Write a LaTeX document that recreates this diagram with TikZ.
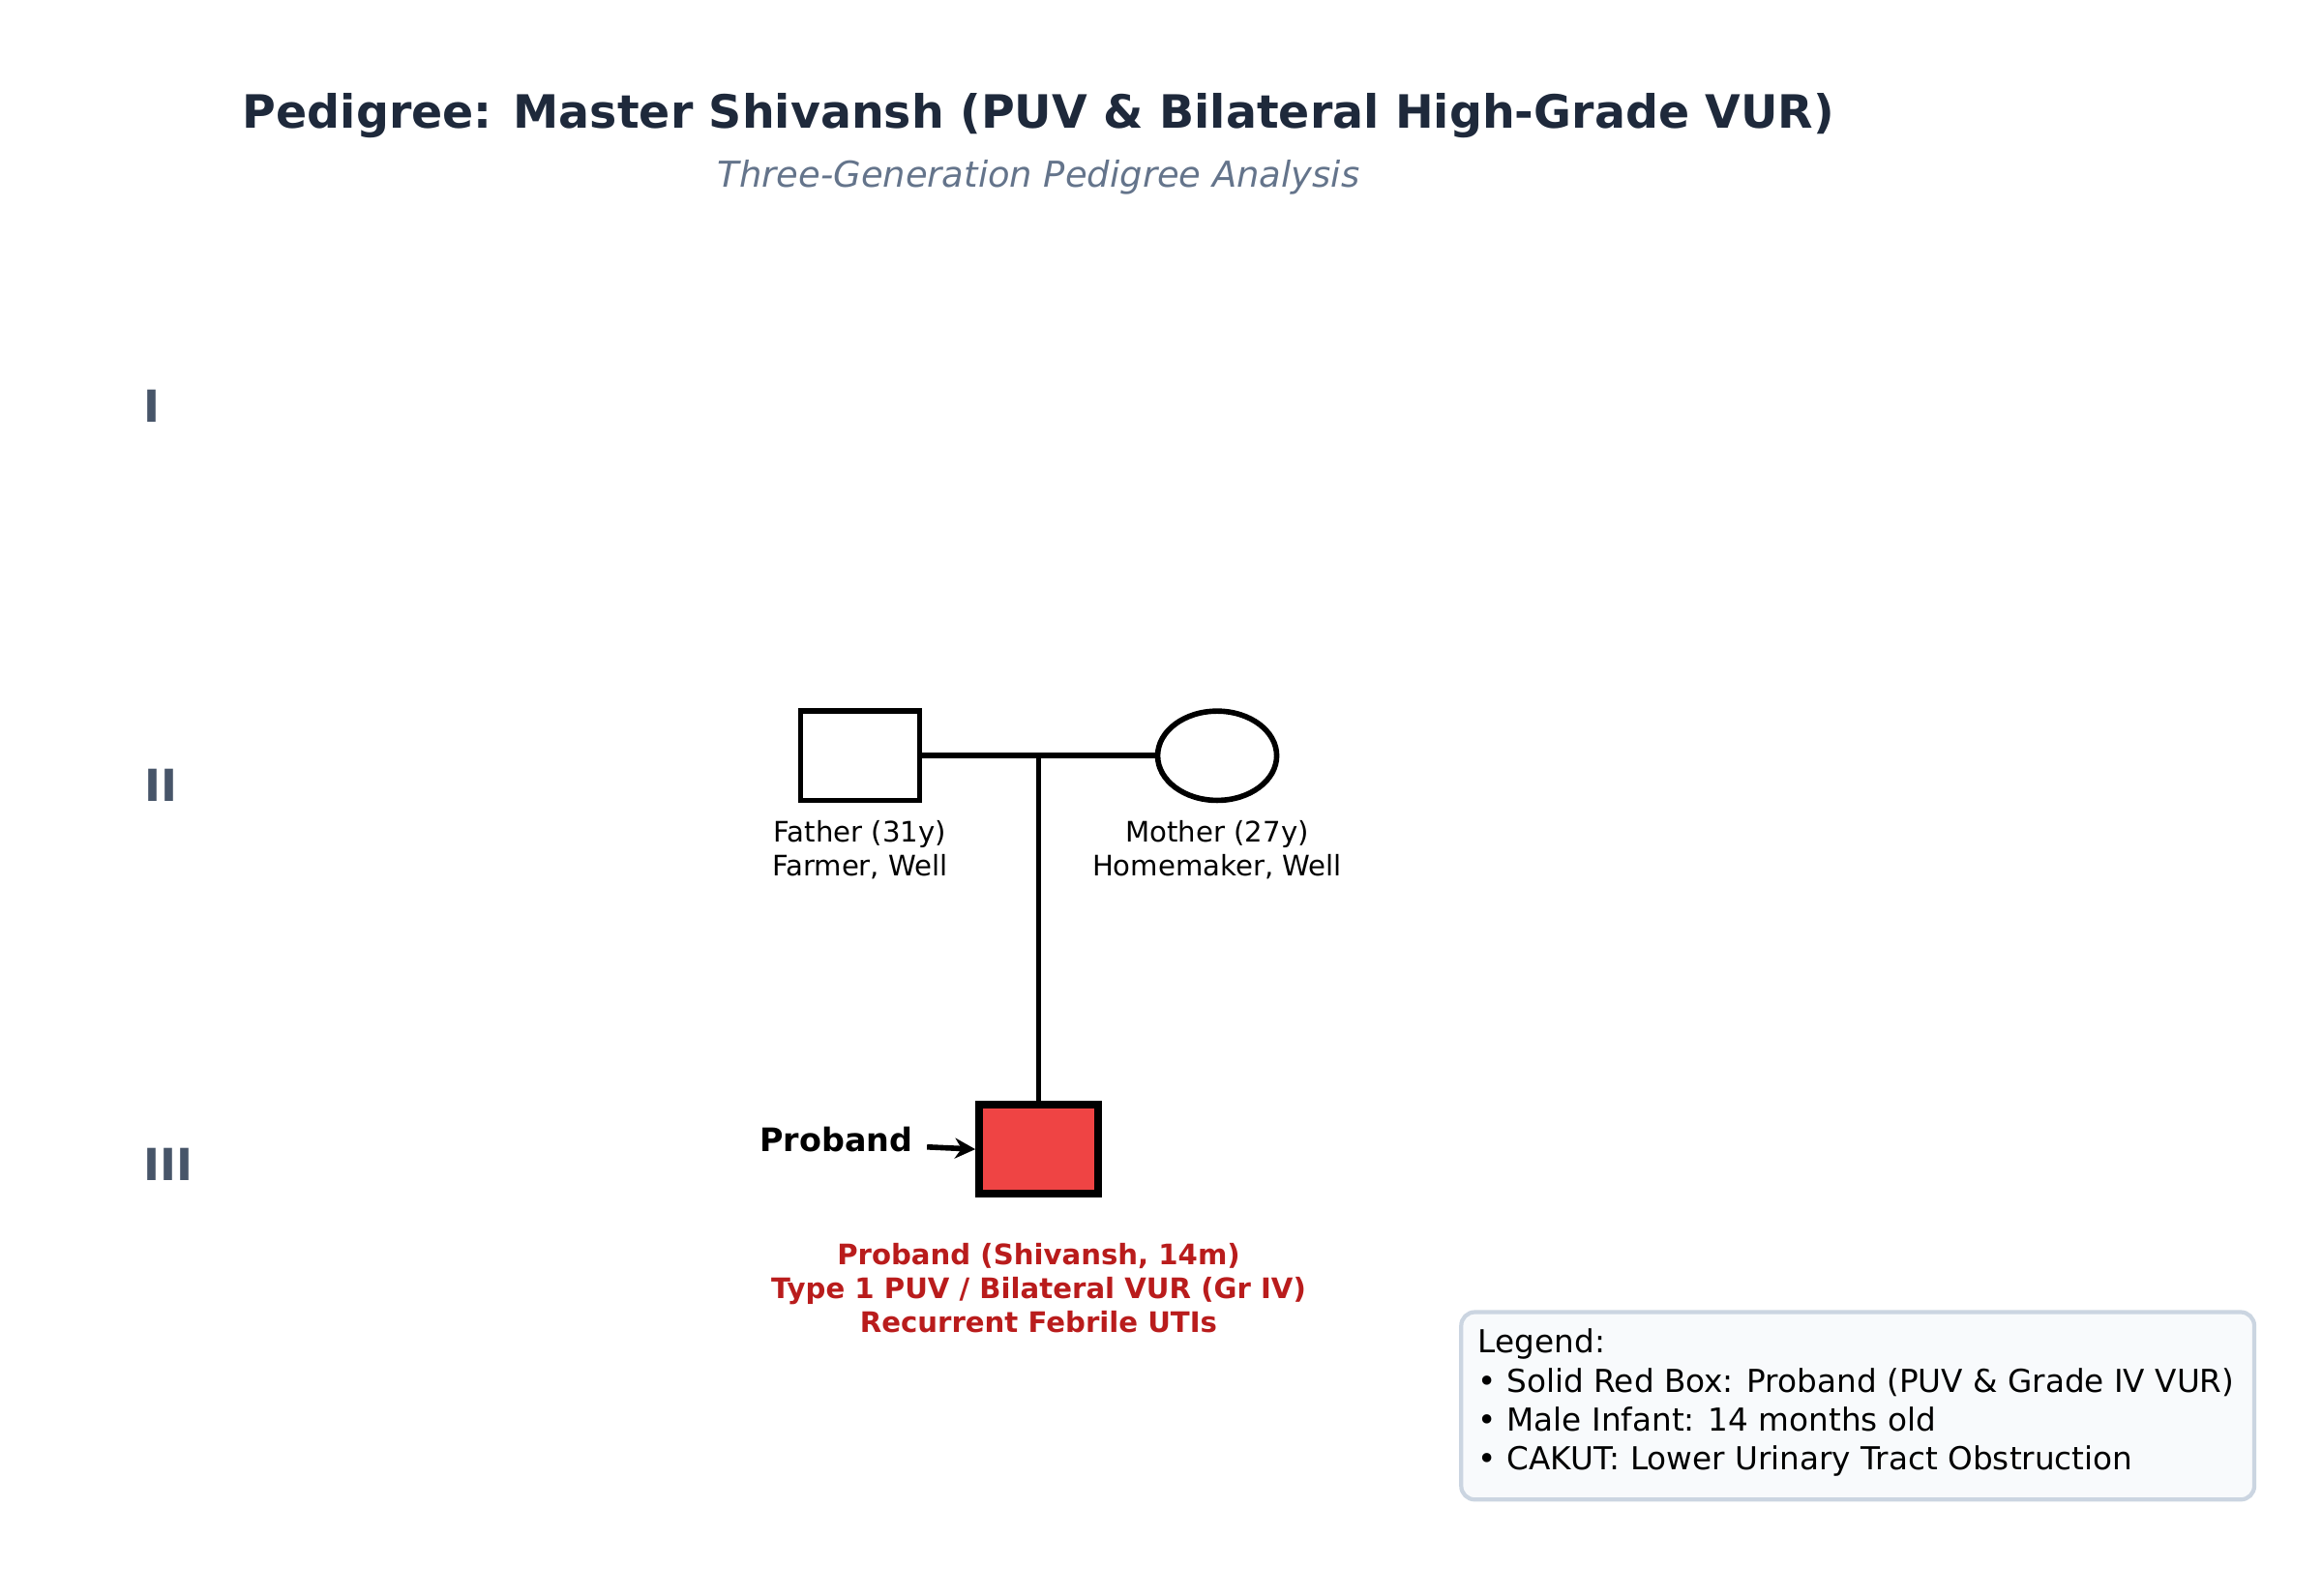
\documentclass[tikz,border=0pt]{standalone}
\usepackage{fontspec}
\setmainfont{DejaVu Sans}
\usetikzlibrary{arrows.meta,shapes.geometric}
\definecolor{titc}{HTML}{1E293B}
\definecolor{subc}{HTML}{64748B}
\definecolor{genc}{HTML}{475569}
\definecolor{pred}{HTML}{EF4444}
\definecolor{dred}{HTML}{B91C1C}
\definecolor{lgfill}{HTML}{F8FAFC}
\definecolor{lgbord}{HTML}{CBD5E1}
\begin{document}
\begin{tikzpicture}[x=0.01538cm,y=-0.01538cm,
 gen/.style={font=\fontsize{13}{15}\selectfont\bfseries,text=genc},
 lbl/.style={font=\fontsize{8.3}{10}\selectfont,align=center},
 line/.style={line width=1.6pt},
 ind/.style={draw,line width=1.6pt,minimum width=80*0.01538cm,minimum height=60*0.01538cm,inner sep=0pt}]
\useasboundingbox (0,0) rectangle (1560.5,1072.8);
\node[font=\fontsize{13.5}{16}\selectfont\bfseries,text=titc] (t) at (698,78) {Pedigree: Master Shivansh (PUV \& Bilateral High-Grade VUR)};
\node[font=\fontsize{10.5}{13}\selectfont\itshape,text=subc] (st) at (698,119) {Three-Generation Pedigree Analysis};
\node[gen] (g1) at (102,273) {I};
\node[gen] (g2) at (108,528) {II};
\node[gen] (g3) at (113,783) {III};
\node[ind,rectangle] (f) at (578,508) {};
\node[ind,ellipse] (m) at (818,508) {};
\node[ind,rectangle,fill=pred,line width=2.2pt] (p) at (698,772.5) {};
\coordinate (mid) at (698,508);
\draw[line] (f.east) -- (m.west);
\draw[line] (mid) -- (p.north);
\node[lbl] (fl) at (578,571) {Father (31y)\\Farmer, Well};
\node[lbl] (ml) at (818,571) {Mother (27y)\\Homemaker, Well};
\node[font=\fontsize{9.5}{11}\selectfont\bfseries] (pl) at (562,766) {Proband};
\coordinate (a1) at (623,771);
\draw[line,-{Stealth[length=6pt,width=6pt]}] (a1) -- (p.west);
\node[lbl,font=\fontsize{8.3}{10}\selectfont\bfseries,text=dred] (pt) at (698,866) {Proband (Shivansh, 14m)\\Type 1 PUV / Bilateral VUR (Gr IV)\\Recurrent Febrile UTIs};
\draw[draw=lgbord,fill=lgfill,line width=1.2pt,rounded corners=4pt] (982,882) rectangle (1515,1008);
\node[anchor=north west,align=left,font=\fontsize{9.3}{11.4}\selectfont,inner sep=0pt] (lg) at (993,893) {Legend:\\• Solid Red Box: Proband (PUV \& Grade IV VUR)\\• Male Infant: 14 months old\\• CAKUT: Lower Urinary Tract Obstruction};
\end{tikzpicture}
\end{document}
